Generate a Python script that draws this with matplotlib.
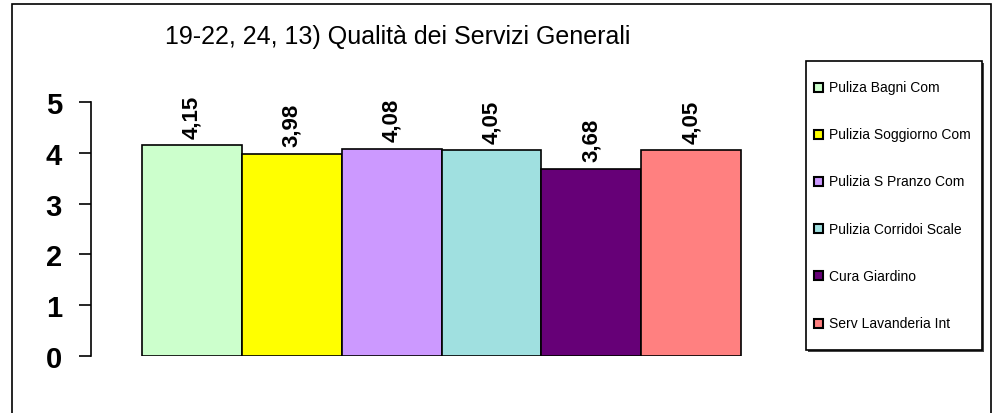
import matplotlib
matplotlib.use('Agg')
import matplotlib.pyplot as plt
from matplotlib.patches import Rectangle

# Survey results: general services quality
services = ['Puliza Bagni Com', 'Pulizia Soggiorno Com', 'Pulizia S Pranzo Com',
            'Pulizia Corridoi Scale', 'Cura Giardino', 'Serv Lavanderia Int']
scores = [4.15, 3.98, 4.08, 4.05, 3.68, 4.05]
colors = ['#CCFFCC', '#FFFF00', '#CC99FF', '#A0E0E0', '#660077', '#FF8080']
title = '19-22, 24, 13) Qualità dei Servizi Generali'

plt.rcParams['font.family'] = ['Liberation Sans', 'DejaVu Sans']

W, H = 994, 414
fig = plt.figure(figsize=(W / 100, H / 100), dpi=100)

def px(x, y):
    # pixel position (from top-left) -> figure fraction
    return x / W, 1 - y / H

# outer chart frame (bottom edge falls below the image)
fig.patches.append(Rectangle(px(12, 430), (991 - 12) / W, (430 - 5) / H,
                             transform=fig.transFigure, fill=False, edgecolor='black',
                             linewidth=1.2))

ax = fig.add_axes([91 / W, 1 - 357 / H, (792 - 91) / W, (357 - 103) / H])

for i, (val, col) in enumerate(zip(scores, colors)):
    ax.bar(i, val, width=1.0, color=col, edgecolor='black', linewidth=1.2)
    ax.text(i, val + 0.15, ('%.2f' % val).replace('.', ','), rotation=90,
            ha='center', va='bottom', fontsize=16, fontweight='bold')

ax.set_xlim(-1.01, 6.01)
ax.set_ylim(0, 5)
ax.set_yticks(range(6))
ax.set_xticks([])
for side in ['top', 'right', 'bottom']:
    ax.spines[side].set_visible(False)
ax.spines['left'].set_linewidth(1.2)
ax.tick_params(axis='y', direction='out', length=9, width=1.2, pad=12,
               labelsize=21)
for lbl in ax.get_yticklabels():
    lbl.set_fontweight('bold')
ax.patch.set_visible(False)

fig.text(*px(165, 37), title, ha='left', va='center', fontsize=18)

# legend box with a slight drop shadow
fig.patches.append(Rectangle(px(808, 353), (982 - 806) / W, (351 - 62) / H,
                             transform=fig.transFigure, facecolor='#444444',
                             edgecolor='none'))
fig.patches.append(Rectangle(px(806, 351), (982 - 806) / W, (351 - 62) / H,
                             transform=fig.transFigure, facecolor='white',
                             edgecolor='black', linewidth=1.2))
for i, (name, col) in enumerate(zip(services, colors)):
    y = 88 + 47.2 * i
    fig.patches.append(Rectangle(px(814, y + 4.5), 9 / W, 9 / H,
                                 transform=fig.transFigure, facecolor=col,
                                 edgecolor='black', linewidth=1.5))
    fig.text(*px(829, y), name, ha='left', va='center', fontsize=10)

fig.savefig('out.png', dpi=100)
